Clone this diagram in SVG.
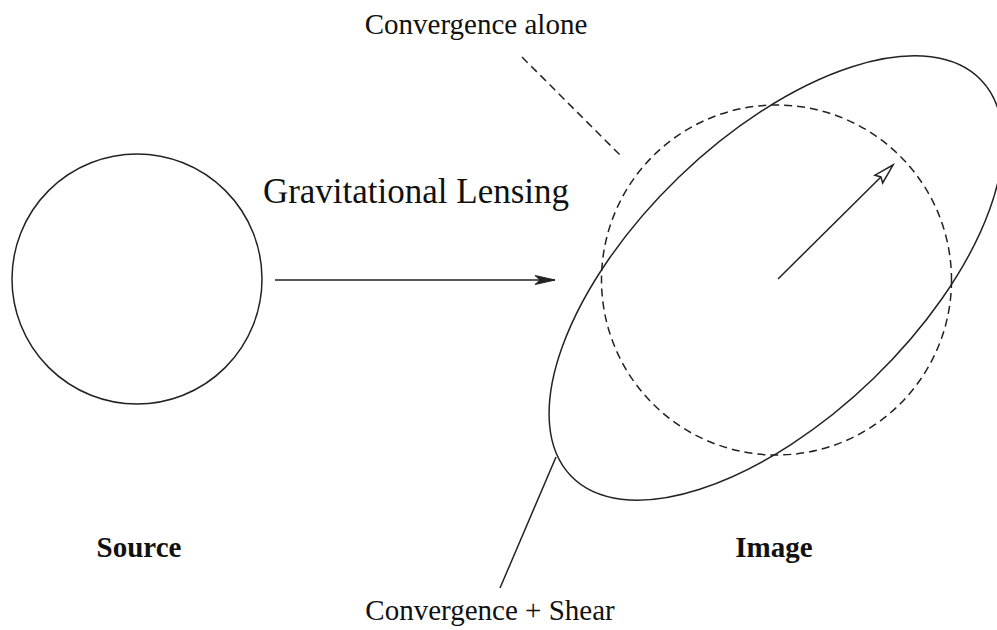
<svg xmlns="http://www.w3.org/2000/svg" width="997" height="630" viewBox="0 0 997 630">
<style>
.ln{fill:none;stroke:#222;stroke-width:1.5}
.dash{stroke-dasharray:8 5}
.t{font-family:"Liberation Serif","Times New Roman",serif;fill:#111}
.lbl{font-size:29px}
.b{font-weight:bold}
</style>
<defs>
<marker id="fill" markerUnits="userSpaceOnUse" markerWidth="24" markerHeight="12" refX="20" refY="6" orient="auto" overflow="visible">
<path d="M20,6 L0,1.5 L5,6 L0,10.5 Z" fill="#222" stroke="#222" stroke-width="1"/>
</marker>
<marker id="open" markerUnits="userSpaceOnUse" markerWidth="24" markerHeight="14" refX="20" refY="7" orient="auto" overflow="visible">
<path d="M20,7 L0,1.5 L3,7 L0,12.5 Z" fill="#fff" stroke="#222" stroke-width="1.5"/>
</marker>
</defs>
<g id="source">
<circle class="ln" cx="137" cy="279" r="125"/>
</g>
<g id="image-circle">
<circle class="ln dash" cx="776.5" cy="280" r="175"/>
</g>
<g id="image-ellipse">
<ellipse class="ln" cx="776" cy="278" rx="285" ry="140" transform="rotate(-44 776 278)"/>
</g>
<g id="connectors">
<line class="ln" x1="275" y1="280" x2="555" y2="280" marker-end="url(#fill)"/>
<line class="ln" x1="778" y1="279" x2="893" y2="165" marker-end="url(#open)"/>
<line class="ln dash" x1="522" y1="57" x2="623" y2="158"/>
<line class="ln" x1="556" y1="457" x2="500" y2="588"/>
</g>
<g id="labels">
<text class="t lbl" x="476" y="34" text-anchor="middle">Convergence alone</text>
<text class="t" x="416" y="203" font-size="35" text-anchor="middle">Gravitational Lensing</text>
<text class="t lbl" x="490" y="620" text-anchor="middle">Convergence + Shear</text>
<text class="t lbl b" x="139" y="557" text-anchor="middle">Source</text>
<text class="t lbl b" x="774" y="557" text-anchor="middle">Image</text>
</g>
</svg>
